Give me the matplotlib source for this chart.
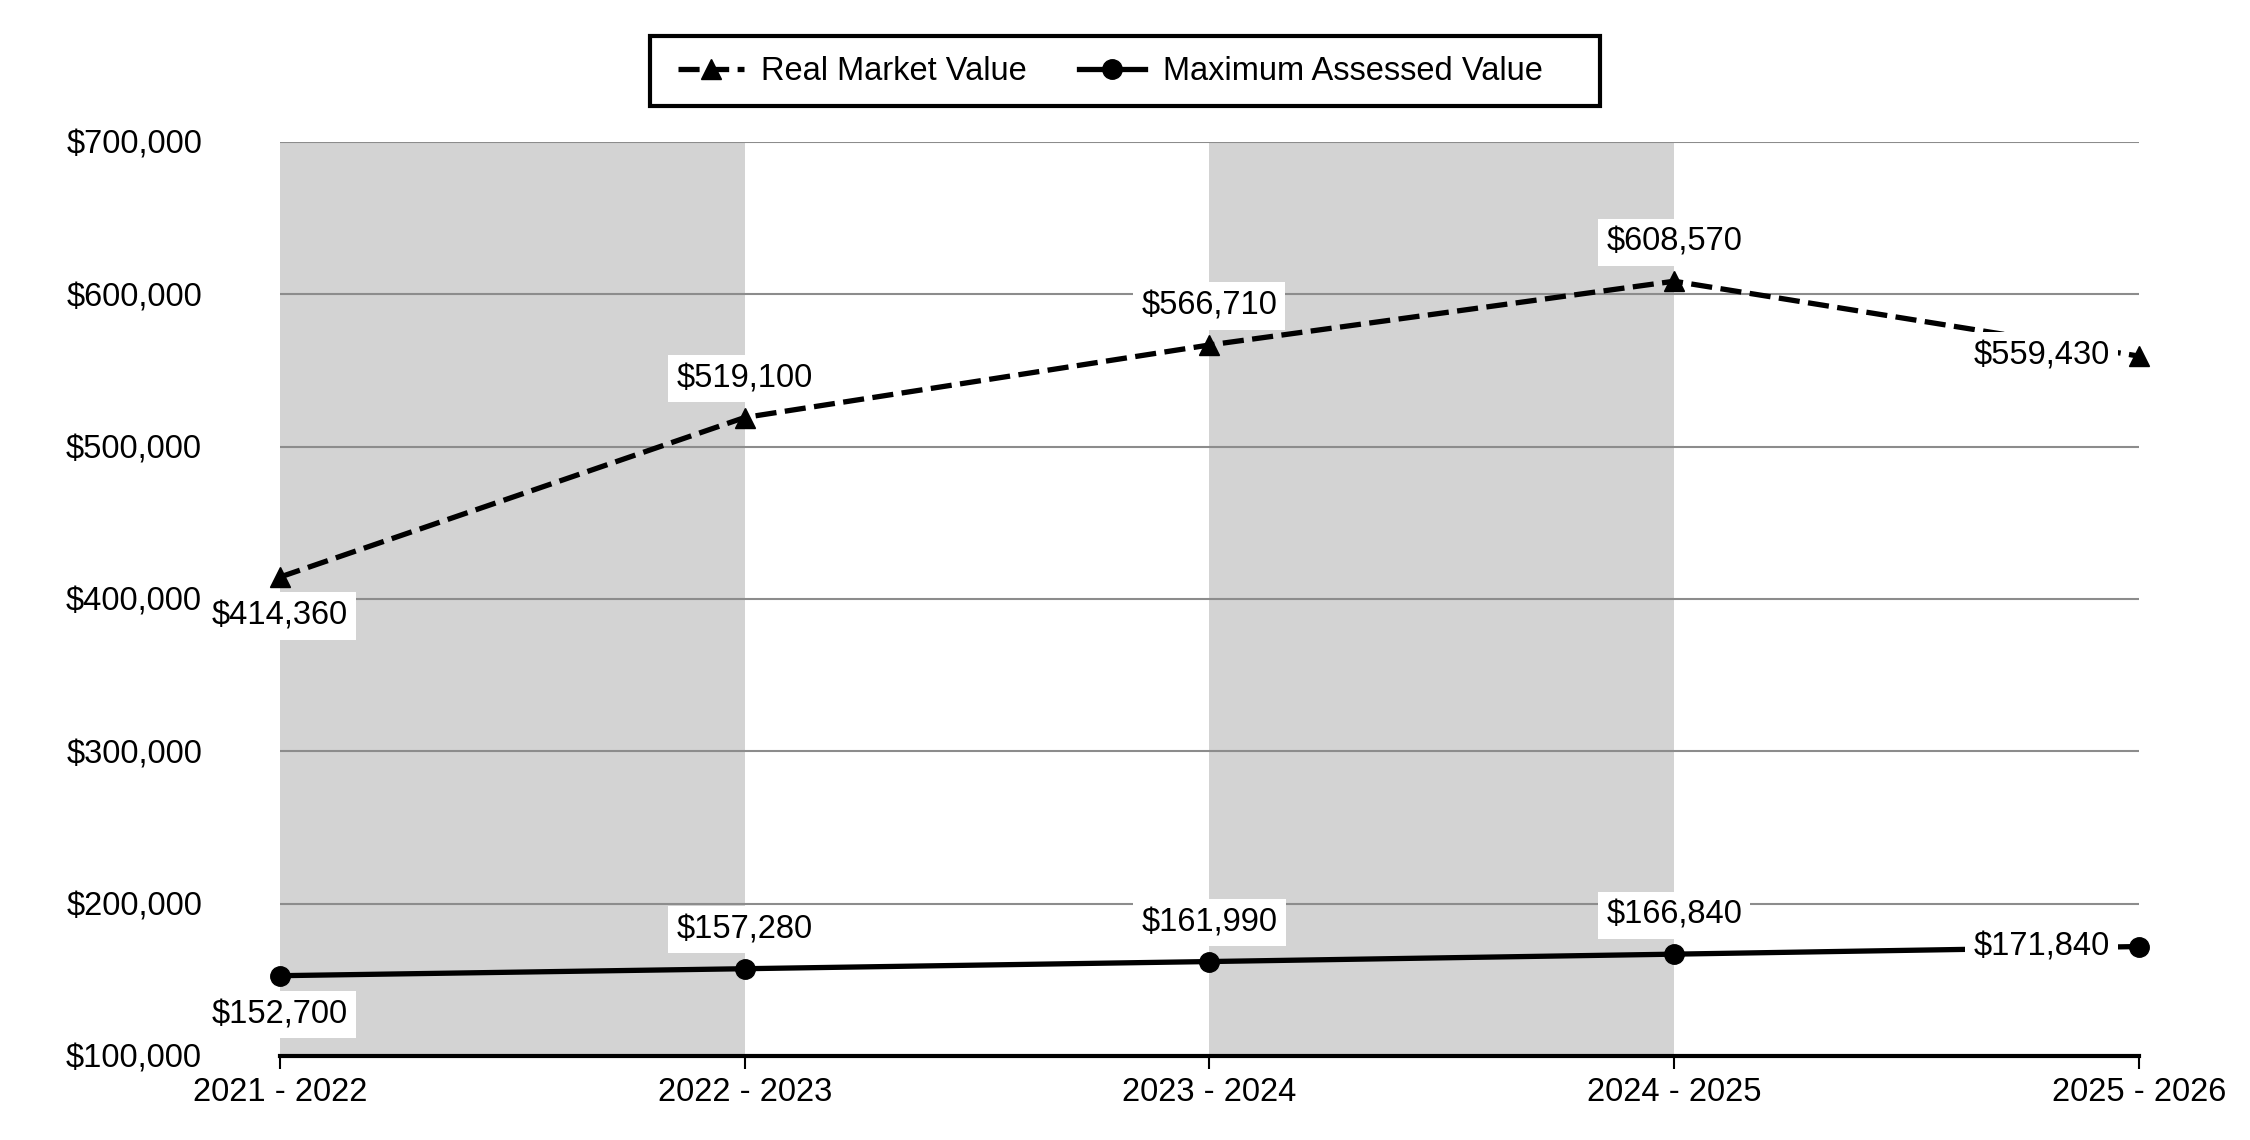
import matplotlib
matplotlib.use("Agg")
import matplotlib.pyplot as plt
from matplotlib.patches import Rectangle

plt.rcParams["font.family"] = ["Liberation Sans", "DejaVu Sans"]

# Data
years = ["2021 - 2022", "2022 - 2023", "2023 - 2024", "2024 - 2025", "2025 - 2026"]
real_market = [414360, 519100, 566710, 608570, 559430]
max_assessed = [152700, 157280, 161990, 166840, 171840]
y_ticks = [100000, 200000, 300000, 400000, 500000, 600000, 700000]

# where each label sits relative to its point (offset in points)
rmv_offsets = [(0, -28), (0, 28), (0, 28), (0, 28), (-70, 0)]
mav_offsets = [(0, -28), (0, 28), (0, 28), (0, 28), (-70, 0)]

fs = 23.5

fig = plt.figure(figsize=(22.5, 11.4), dpi=100)
ax = fig.add_axes([0.1244, 0.0737, 0.8262, 0.8018])

x = list(range(len(years)))

# alternating shaded bands
for i in range(0, len(years) - 1, 2):
    ax.axvspan(x[i], x[i + 1], color="#d3d3d3", zorder=0, lw=0)

# grid lines
for v in y_ticks[1:]:
    ax.axhline(v, color="#8c8c8c", lw=1.5, zorder=1)

ax.plot(x, real_market, color="black", lw=3.8, dashes=(4, 1.6),
        marker="^", markersize=14, label="Real Market Value", zorder=3,
        clip_on=False)
ax.plot(x, max_assessed, color="black", lw=3.8,
        marker="o", markersize=14, label="Maximum Assessed Value", zorder=3,
        clip_on=False)

box = dict(boxstyle="square,pad=0.25", fc="white", ec="none")
for xi, v, off in zip(x, real_market, rmv_offsets):
    ax.annotate(f"${v:,}", (xi, v), xytext=off, textcoords="offset points",
                ha="center", va="center", fontsize=fs, bbox=box, zorder=4)
for xi, v, off in zip(x, max_assessed, mav_offsets):
    ax.annotate(f"${v:,}", (xi, v), xytext=off, textcoords="offset points",
                ha="center", va="center", fontsize=fs, bbox=box, zorder=4)

ax.set_xlim(0, 4)
ax.set_ylim(100000, 700000)
ax.set_xticks(x)
ax.set_xticklabels(years)
ax.set_yticks(y_ticks)
ax.set_yticklabels([f"${v:,}" for v in y_ticks])

ax.tick_params(axis="y", length=0, pad=56, labelsize=fs)
ax.tick_params(axis="x", length=9, width=1.5, pad=6, labelsize=fs, direction="out")
for s in ["left", "right", "top"]:
    ax.spines[s].set_visible(False)
ax.spines["bottom"].set_linewidth(3)
ax.spines["bottom"].set_zorder(5)

# legend with a plain box that has extra room on the right
fig.legend(loc="center", bbox_to_anchor=(0.4935, 0.937), ncol=2,
           fontsize=fs, frameon=False,
           handlelength=2.0, handletextpad=0.55, columnspacing=1.6)
fig.patches.append(Rectangle((650 / 2250, 1 - 106 / 1140), 950 / 2250, 70 / 1140,
                             transform=fig.transFigure, fill=False,
                             edgecolor="black", lw=3))

plt.savefig("out.png", dpi=100)
